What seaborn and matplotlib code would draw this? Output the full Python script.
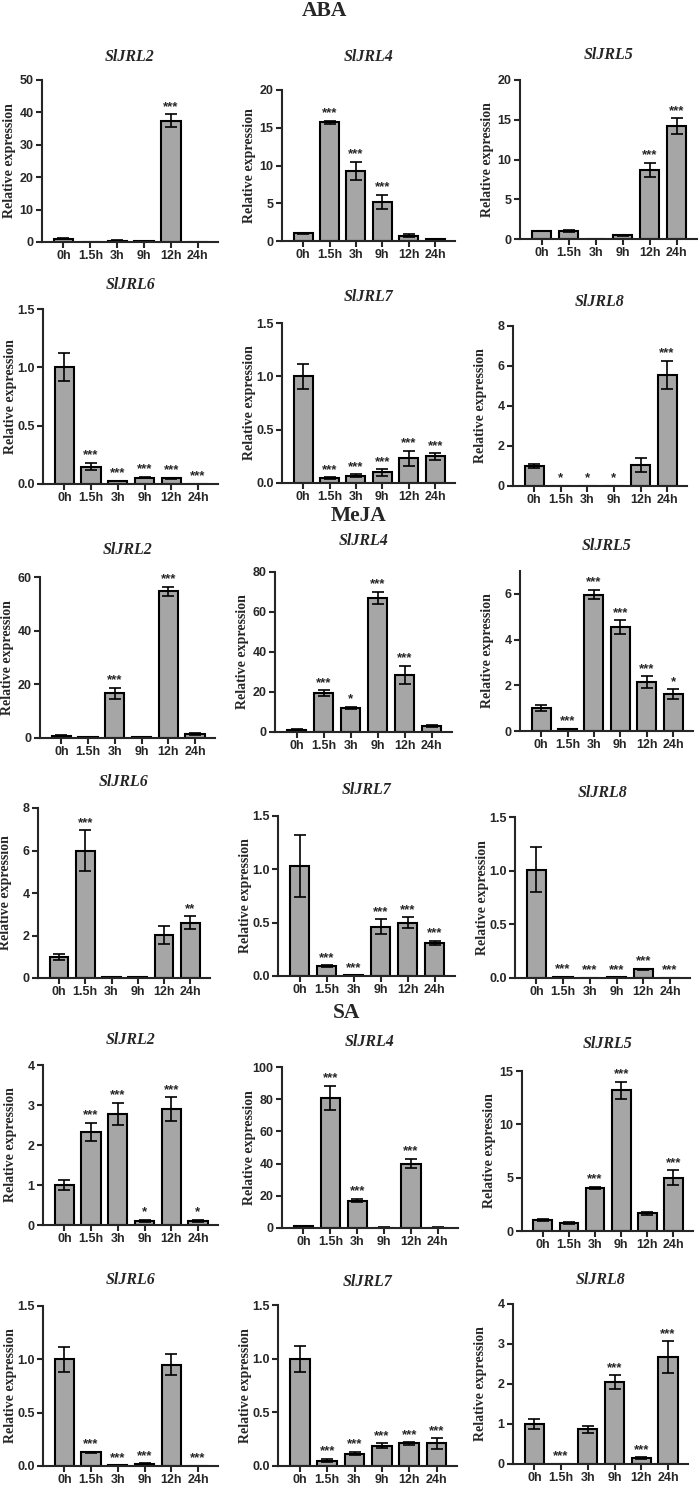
import numpy as np
import pandas as pd
import matplotlib
matplotlib.use("Agg")
import matplotlib.pyplot as plt
import seaborn as sns

# данные
times = ["0h", "1.5h", "3h", "9h", "12h", "24h"]
genes = ["SlJRL2", "SlJRL4", "SlJRL5", "SlJRL6", "SlJRL7", "SlJRL8"]

aba_mean = [[1.0, 0.05, 0.4, 0.25, 37.4, 0.05],
            [1.0, 15.7, 9.3, 5.2, 0.7, 0.25],
            [1.0, 1.0, 0.05, 0.45, 8.7, 14.2],
            [1.0, 0.15, 0.025, 0.055, 0.05, 0.003],
            [1.0, 0.045, 0.07, 0.10, 0.23, 0.25],
            [1.0, 0.0, 0.0, 0.0, 1.05, 5.55]]
aba_err = [[0.2, 0, 0.1, 0.05, 2.0, 0],
           [0.1, 0.2, 1.2, 0.9, 0.2, 0.05],
           [0.05, 0.1, 0, 0.05, 0.9, 1.0],
           [0.12, 0.03, 0.003, 0.005, 0.005, 0],
           [0.12, 0.01, 0.01, 0.03, 0.07, 0.03],
           [0.12, 0, 0, 0, 0.35, 0.72]]
aba_sig = [["", "", "", "", "***", ""],
           ["", "***", "***", "***", "", ""],
           ["", "", "", "", "***", "***"],
           ["", "***", "***", "***", "***", "***"],
           ["", "***", "***", "***", "***", "***"],
           ["", "*", "*", "*", "", "***"]]

meja_mean = [[0.9, 0.3, 16.7, 0.2, 54.7, 1.5],
             [1.0, 19.3, 12.0, 67.0, 28.5, 3.0],
             [1.0, 0.07, 5.97, 4.55, 2.13, 1.6],
             [1.0, 6.0, 0.03, 0.03, 2.03, 2.6],
             [1.03, 0.09, 0.005, 0.46, 0.5, 0.31],
             [1.01, 0.01, 0.003, 0.005, 0.08, 0.003]]
meja_err = [[0.2, 0.1, 2.0, 0.1, 1.6, 0.3],
            [0.3, 1.5, 0.5, 3.0, 4.5, 0.3],
            [0.12, 0.02, 0.2, 0.3, 0.27, 0.22],
            [0.15, 0.95, 0, 0, 0.42, 0.3],
            [0.29, 0.01, 0, 0.07, 0.05, 0.02],
            [0.21, 0.002, 0, 0, 0.005, 0]]
meja_sig = [["", "", "***", "", "***", ""],
            ["", "***", "*", "***", "***", ""],
            ["", "***", "***", "***", "***", "*"],
            ["", "***", "", "", "", "**"],
            ["", "***", "***", "***", "***", "***"],
            ["", "***", "***", "***", "***", "***"]]

sa_mean = [[1.0, 2.33, 2.77, 0.1, 2.89, 0.1],
           [1.0, 81.0, 17.0, 0.3, 40.0, 0.3],
           [1.0, 0.75, 4.05, 13.2, 1.65, 5.0],
           [1.0, 0.13, 0.005, 0.02, 0.95, 0.002],
           [1.0, 0.05, 0.115, 0.19, 0.21, 0.21],
           [1.0, 0.0, 0.87, 2.05, 0.15, 2.67]]
sa_err = [[0.12, 0.22, 0.28, 0.03, 0.3, 0.03],
          [0.2, 7.5, 1.0, 0.1, 3.0, 0.1],
          [0.1, 0.1, 0.1, 0.8, 0.12, 0.7],
          [0.12, 0.005, 0, 0.005, 0.1, 0],
          [0.12, 0.015, 0.015, 0.02, 0.01, 0.05],
          [0.12, 0, 0.09, 0.17, 0.02, 0.4]]
sa_sig = [["", "***", "***", "*", "***", "*"],
          ["", "***", "***", "", "***", ""],
          ["", "", "***", "***", "", "***"],
          ["", "***", "***", "***", "", "***"],
          ["", "***", "***", "***", "***", "***"],
          ["", "***", "", "***", "***", "***"]]

# оси: верх шкалы и шаг делений
aba_ylim = [(50, 10), (20, 5), (20, 5), (1.5, 0.5), (1.5, 0.5), (8, 2)]
meja_ylim = [(60, 20), (80, 20), (7, 2), (8, 2), (1.5, 0.5), (1.5, 0.5)]
sa_ylim = [(4, 1), (100, 20), (15, 5), (1.5, 0.5), (1.5, 0.5), (4, 1)]

# положение панелей в пикселях: left, top, right, bottom
aba_box = [(42, 80, 218, 242), (282, 90, 455, 241), (520, 80, 697, 239),
           (43, 309, 218, 484), (282, 323, 455, 483), (513, 326, 687, 486)]
meja_box = [(40, 577, 215, 738), (275, 572, 452, 732), (520, 571, 693, 731),
            (38, 808, 210, 978), (278, 816, 455, 976), (515, 817, 690, 978)]
sa_box = [(43, 1065, 218, 1225), (282, 1067, 458, 1228), (522, 1071, 693, 1231),
          (43, 1306, 218, 1466), (278, 1305, 457, 1466), (513, 1304, 688, 1464)]
aba_ty = [57, 57, 55, 285, 297, 302]
meja_ty = [550, 541, 546, 782, 790, 793]
sa_ty = [1040, 1042, 1044, 1280, 1282, 1280]

W, H = 699, 1492
sns.set_style("ticks")
plt.rcParams['font.family'] = ['Liberation Sans', 'DejaVu Sans']
plt.rcParams['axes.linewidth'] = 1.5

fig = plt.figure(figsize=(W / 100, H / 100), dpi=100)

serif = ['Liberation Serif', 'DejaVu Serif']


def draw_panel(box, gene, ty, mean, err, sig, ylim):
    l, t, r, b = box
    ax = fig.add_axes([l / W, 1 - b / H, (r - l) / W, (b - t) / H])
    df = pd.DataFrame({"time": times, "value": mean})
    sns.barplot(data=df, x="time", y="value", order=times, errorbar=None,
                color="#a6a6a6", saturation=1, edgecolor="black",
                linewidth=1.5, width=0.72, ax=ax)
    m = np.array(mean)
    e = np.array(err)
    x = np.arange(len(times))
    keep = e > 0
    ax.errorbar(x[keep], m[keep], yerr=e[keep], fmt="none", ecolor="black",
                elinewidth=1.2, capsize=4, capthick=1.2)
    for xi, mi, ei, s in zip(x, m, e, sig):
        if s:
            ax.annotate(s, (xi, mi + ei), xytext=(0, 1), textcoords="offset points",
                        ha="center", va="bottom", fontsize=9.5, fontweight="bold")
    top, step = ylim
    ticks = np.arange(0, top + 1e-9, step)
    ax.set_ylim(0, top)
    ax.set_yticks(ticks)
    if step < 1:
        ax.set_yticklabels([f"{v:.1f}" for v in ticks])
    else:
        ax.set_yticklabels([f"{v:g}" for v in ticks])
    ax.set_xlim(-0.8, 5.75)
    ax.set_xlabel("")
    ax.set_ylabel("Relative expression", family=serif, fontweight="bold", fontsize=10)
    ax.yaxis.set_label_coords(-26 / (r - l), 0.5)
    ax.tick_params(axis="both", length=4, width=1.5, labelsize=9, direction="out", pad=2)
    for lab in ax.get_xticklabels() + ax.get_yticklabels():
        lab.set_fontweight("bold")
    sns.despine(ax=ax)
    fig.text((l + r) / 2 / W, 1 - ty / H, gene, family=serif, fontweight="bold",
             style="italic", fontsize=11.5, ha="center", va="center")


for means, errs, sigs, lims, boxes, tys in [
        (aba_mean, aba_err, aba_sig, aba_ylim, aba_box, aba_ty),
        (meja_mean, meja_err, meja_sig, meja_ylim, meja_box, meja_ty),
        (sa_mean, sa_err, sa_sig, sa_ylim, sa_box, sa_ty)]:
    for i, g in enumerate(genes):
        draw_panel(boxes[i], g, tys[i], means[i], errs[i], sigs[i], lims[i])

# заголовки обработок
for name, cx, cy in [("ABA", 324, 11), ("MeJA", 359, 516), ("SA", 347, 1013)]:
    fig.text(cx / W, 1 - cy / H, name, family=serif, fontweight="bold",
             fontsize=15.5, ha="center", va="center")

fig.savefig("out.png", dpi=100)
